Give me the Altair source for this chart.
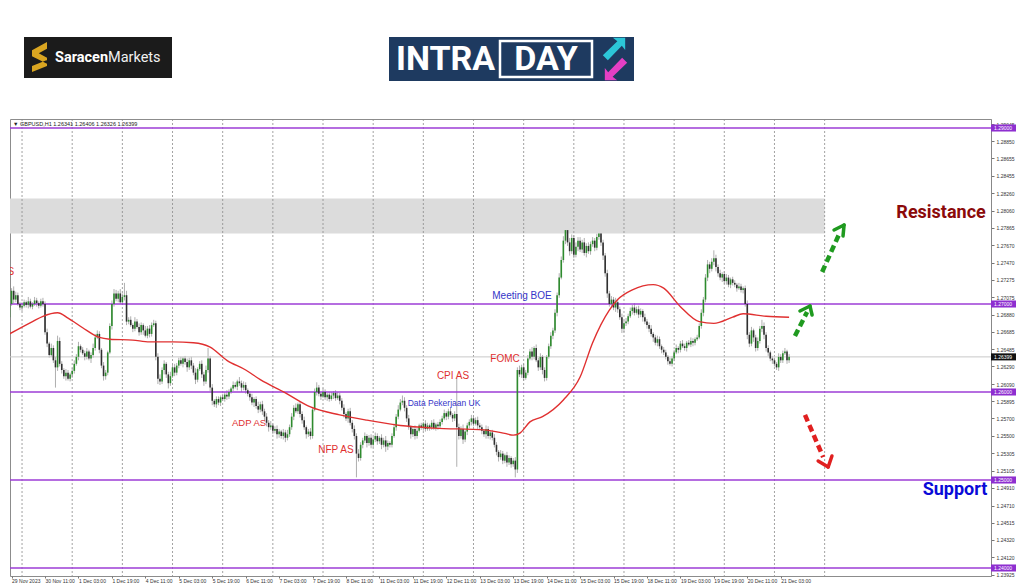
import altair as alt
import pandas as pd

# ---------------- data (prices in pips above 1.24000) ----------------
first_open = 285
close_pips = (
    [300, 315, 305, 310]
    + [300, 296, 298, 302, 299, 303, 297, 300, 304, 301, 298, 303, 300]
    + [268, 255, 242, 250, 236, 228]
    + [258, 232]
    + [225, 218, 222, 215, 220, 224]
    + [232, 240, 252, 248, 244]
    + [240, 246, 238, 242, 250]
    + [262, 266]
    + [248, 230, 218, 222]
    + [245, 275, 300, 312]
    + [306, 312, 302, 308, 310]
    + [280]
    + [282, 276, 272, 280, 274, 268, 276, 270, 264, 272, 266, 276, 278]
    + [240, 215]
    + [212, 225, 232, 220, 210, 218, 228, 222, 230]
    + [236, 232, 238, 234, 228, 236]
    + [230, 222, 214, 226, 232, 220, 212, 225, 238]
    + [205, 190, 186, 192]
    + [188, 194, 192, 197, 195, 200, 204]
    + [208, 206, 212, 210, 205, 208, 202, 198]
    + [194, 188, 192, 184, 180, 186, 178, 172]
    + [165, 160, 162, 156, 158, 152, 155, 150, 154, 148, 152, 160]
    + [172, 182, 178, 186, 175]
    + [168, 160, 152, 155, 150]
    + [180, 200, 205]
    + [198, 195, 200, 194, 197, 192, 196, 199, 193, 196, 190]
    + [182, 175, 170, 178, 165, 158]
    + [150, 130, 125, 140]
    + [145, 150, 142, 148, 140, 146]
    + [150, 144, 148, 140, 145, 138, 142, 140]
    + [150, 160, 172, 180, 188]
    + [190, 182]
    + [170, 160, 152, 158, 150, 156, 162]
    + [160, 164, 158, 162, 160, 165, 159, 163, 161, 166]
    + [170, 176, 172, 178, 174, 170, 175]
    + [160]
    + [150, 158, 146, 155, 162]
    + [166, 170, 164, 168, 162, 160]
    + [156, 152, 158, 150, 154, 148]
    + [140, 132, 126, 130, 122, 128, 120, 125, 118, 122, 112]
    + [225]
    + [220, 228, 216, 222]
    + [238, 246, 240, 250, 236]
    + [228, 240, 225, 216]
    + [240, 252, 264, 270]
    + [290, 310, 330]
    + [350, 372, 384]
    + [370, 360, 375, 356, 365, 372]
    + [362, 370, 358, 366, 360, 368, 372, 364, 376]
    + [380, 370, 355]
    + [335, 312, 300]
    + [305, 296, 302, 294]
    + [285, 272, 278, 280]
    + [286, 292, 296, 290, 294, 288, 292, 285, 280, 276]
    + [272, 266, 262, 256, 260, 252, 248, 245]
    + [240, 235, 232, 238]
    + [245, 250, 248, 255, 252, 250, 256, 254, 258, 256, 260, 262]
    + [275, 290, 305]
    + [330, 345, 340, 348, 352, 342]
    + [335, 330, 334, 326, 330, 322, 328, 324]
    + [322, 318, 320, 316, 318, 300]
    + [265]
    + [255, 270, 262, 250, 258]
    + [272, 275, 265, 250]
    + [245, 238, 236]
    + [232, 228, 240, 236]
    + [244, 246, 236, 240]
)
wick_hi = (
    [2, 3, 5, 4]
    + [3, 2, 4, 3, 2, 5, 3, 2, 4, 3, 2, 3, 4]
    + [3, 4, 2, 5, 3, 4]
    + [6, 4]
    + [3, 2, 4, 3, 2, 3]
    + [4, 3, 5, 2, 3]
    + [3, 4, 2, 3, 5]
    + [4, 4]
    + [3, 2, 4, 3]
    + [2, 3, 4, 5]
    + [4, 3, 5, 4, 14]
    + [5]
    + [3, 4, 2, 5, 3, 4, 3, 2, 5, 3, 4, 3, 4]
    + [3, 4]
    + [5, 3, 4, 2, 3, 5, 3, 4, 3]
    + [3, 4, 2, 3, 4, 3]
    + [4, 3, 5, 2, 3, 4, 3, 5, 12]
    + [3, 4, 2, 3]
    + [3, 2, 4, 3, 5, 3, 2]
    + [4, 3, 2, 5, 3, 4, 3, 2]
    + [3, 4, 2, 3, 5, 3, 4, 3]
    + [4, 3, 5, 2, 3, 4, 3, 2, 4, 3, 5, 3]
    + [4, 3, 5, 2, 3]
    + [3, 4, 2, 3, 4]
    + [3, 4, 6]
    + [3, 2, 4, 3, 2, 3, 4, 2, 3, 4, 3]
    + [3, 4, 2, 3, 4, 3]
    + [4, 3, 5, 3]
    + [3, 4, 2, 3, 4, 3]
    + [4, 3, 2, 4, 3, 5, 3, 2]
    + [3, 4, 3, 5, 4]
    + [6, 4]
    + [3, 4, 2, 3, 4, 3, 2]
    + [3, 2, 4, 3, 2, 3, 4, 2, 3, 3]
    + [3, 4, 2, 3, 4, 2, 3]
    + [41]
    + [4, 3, 5, 2, 3]
    + [3, 4, 2, 3, 4, 3]
    + [3, 2, 4, 3, 2, 3]
    + [4, 3, 2, 4, 3, 2, 4, 3, 2, 3, 4]
    + [3]
    + [5, 3, 4, 3]
    + [4, 3, 5, 2, 4]
    + [3, 4, 2, 3]
    + [2, 3, 4, 3]
    + [4, 3, 5]
    + [4, 5, 9]
    + [3, 5, 4, 3, 5, 4]
    + [4, 3, 5, 3, 4, 3, 4, 3, 4]
    + [10, 4, 3]
    + [3, 4, 3]
    + [4, 3, 5, 3]
    + [3, 4, 3, 4]
    + [3, 4, 3, 5, 3, 4, 3, 2, 4, 3]
    + [3, 4, 2, 3, 4, 3, 2, 3]
    + [3, 2, 4, 3]
    + [3, 4, 2, 3, 4, 3, 2, 3, 4, 3, 2, 3]
    + [3, 4, 3]
    + [4, 5, 3, 4, 9, 4]
    + [3, 4, 2, 3, 4, 3, 2, 3]
    + [3, 2, 4, 3, 2, 3]
    + [4]
    + [3, 4, 2, 3, 4]
    + [3, 7, 4, 3]
    + [3, 2, 3]
    + [3, 2, 4, 3]
    + [3, 4, 2, 3]
)
wick_lo = (
    [3, 2, 4, 3]
    + [2, 3, 4, 2, 3, 4, 2, 3, 2, 4, 3, 2, 3]
    + [3, 4, 3, 2, 3, 23]
    + [4, 3]
    + [4, 3, 5, 2, 3, 4]
    + [3, 2, 4, 3, 2]
    + [4, 3, 2, 5, 3]
    + [3, 2]
    + [4, 3, 5, 4]
    + [3, 2, 4, 3]
    + [3, 4, 2, 3, 4]
    + [4]
    + [3, 2, 4, 3, 2, 4, 3, 5, 2, 3, 4, 3, 2]
    + [4, 6]
    + [4, 3, 5, 4, 6, 3, 2, 4, 3]
    + [3, 2, 4, 3, 5, 3]
    + [4, 3, 5, 3, 2, 4, 5, 3, 3]
    + [4, 5, 3, 4]
    + [3, 4, 2, 3, 4, 3, 2]
    + [3, 2, 4, 3, 5, 3, 4, 3]
    + [4, 3, 5, 3, 4, 3, 4, 5]
    + [4, 5, 3, 4, 3, 5, 4, 3, 4, 5, 3, 3]
    + [3, 4, 2, 3, 4]
    + [4, 3, 5, 3, 4]
    + [3, 2, 4]
    + [3, 4, 2, 3, 4, 3, 2, 4, 3, 2, 4]
    + [3, 4, 3, 5, 3, 4]
    + [4, 27, 4, 3]
    + [4, 3, 5, 3, 4, 3]
    + [3, 4, 3, 5, 3, 6, 4, 3]
    + [3, 2, 4, 3, 2]
    + [3, 4]
    + [4, 3, 5, 3, 4, 3, 2]
    + [3, 4, 3, 2, 4, 3, 2, 3, 4, 3]
    + [3, 2, 4, 3, 2, 4, 3]
    + [45]
    + [4, 3, 5, 3, 4]
    + [3, 4, 3, 2, 4, 3]
    + [4, 3, 5, 3, 4, 3]
    + [3, 4, 5, 3, 4, 3, 5, 3, 4, 3, 9]
    + [4]
    + [3, 4, 3, 2]
    + [3, 2, 4, 3, 2]
    + [4, 3, 5, 4]
    + [3, 2, 3, 4]
    + [3, 4, 3]
    + [2, 3, 4]
    + [4, 5, 3, 4, 3, 5]
    + [3, 4, 3, 5, 3, 4, 3, 4, 3]
    + [3, 4, 5]
    + [4, 5, 3]
    + [4, 3, 5, 4]
    + [3, 5, 4, 3]
    + [3, 2, 4, 3, 2, 4, 3, 5, 3, 4]
    + [4, 3, 5, 3, 4, 3, 4, 3]
    + [3, 4, 2, 3]
    + [3, 2, 4, 3, 2, 3, 4, 2, 3, 4, 3, 2]
    + [2, 3, 4]
    + [3, 4, 5, 3, 4, 5]
    + [4, 3, 5, 3, 4, 3, 4, 3]
    + [3, 4, 2, 3, 4, 3]
    + [5]
    + [4, 3, 5, 4, 3]
    + [3, 4, 5, 4]
    + [4, 3, 4]
    + [3, 3, 4, 3]
    + [3, 2, 4, 3]
)

# moving average
ma_idx = [0, 11, 16, 23, 28, 35, 43, 48, 59, 67, 78, 88, 96, 104, 113, 120, 132, 144, 158, 171,
          187, 203, 227, 237, 241, 244, 249, 255, 265, 273, 279, 287, 291, 298, 308, 313, 321, 330,
          337, 346, 351, 362, 373]
ma_pips = [266, 280, 286, 290, 284, 273, 262, 260, 259, 257, 257, 256, 251, 236, 225, 214, 199, 183,
           174, 168, 162, 159, 157, 153, 151, 153, 166, 172, 191, 217, 256, 293, 305, 316, 322, 318,
           297, 280, 278, 285, 289, 286, 285]

day_sep_idx = [6, 30, 54, 78, 102, 126, 150, 174, 198, 222, 246, 270, 294, 318, 342, 366, 390]
level_prices = [1.29, 1.27, 1.26, 1.25, 1.24]
level_labels = ["1.29000", "1.27000", "1.26000", "1.25000", "1.24000"]
last_price = 1.26399
zone_low, zone_high, zone_end_idx = 1.278, 1.282, 390

x_label_idx = [1, 17, 33, 49, 65, 81, 97, 113, 129, 145, 161, 177, 193, 209, 225, 241, 257, 273,
               289, 305, 321, 337, 353, 369]
x_label_txt = ["29 Nov 2023", "30 Nov 11:00", "1 Dec 03:00", "1 Dec 19:00", "4 Dec 11:00",
               "5 Dec 03:00", "5 Dec 19:00", "6 Dec 11:00", "7 Dec 03:00", "7 Dec 19:00",
               "8 Dec 11:00", "11 Dec 03:00", "11 Dec 19:00", "12 Dec 11:00", "13 Dec 03:00",
               "13 Dec 19:00", "14 Dec 11:00", "15 Dec 03:00", "15 Dec 19:00", "18 Dec 11:00",
               "19 Dec 03:00", "19 Dec 19:00", "20 Dec 11:00", "21 Dec 03:00"]
y_tick_vals = [1.29045, 1.28850, 1.28655, 1.28455, 1.28260, 1.28060, 1.27865, 1.27670, 1.27470,
               1.27275, 1.27075, 1.26880, 1.26685, 1.26485, 1.26290, 1.26090, 1.25895, 1.25700,
               1.25500, 1.25305, 1.25105, 1.24910, 1.24710, 1.24515, 1.24320, 1.24120, 1.23925]

ann_text = ["Meeting BOE", "FOMC", "CPI AS", "Data Pekerjaan UK", "ADP AS", "NFP AS"]
ann_idx = [245.2, 237.1, 212.2, 207.9, 114.6, 156.2]
ann_pips = [309, 237.5, 218, 187.5, 165, 134]
ann_color = ["#3535c8", "#e0302f", "#e0302f", "#3535c8", "#e0302f", "#e0302f"]
ann_size = [10, 10, 10, 8.5, 9.5, 10]

big_text = ["Resistance", "Support"]
big_idx = [445.7, 452.4]
big_pips = [403.4, 88.6]
big_color = ["#8b0a0a", "#0a0ad8"]

# arrows (index, pips)
shaft_x0 = [388.8, 375.8, 380.6]
shaft_p0 = [336.4, 263.6, 173.9]
shaft_x1 = [397.4, 381.6, 389.3]
shaft_p1 = [381.8, 290.9, 126.1]
shaft_col = ["#1f9a1f", "#1f9a1f", "#e02020"]
head_x0 = [399.3, 399.3, 383.0, 383.0, 391.7, 391.7]
head_p0 = [389.8, 389.8, 297.7, 297.7, 114.8, 114.8]
head_x1 = [394.5, 398.8, 378.2, 384.0, 386.9, 393.5]
head_p1 = [384.1, 377.3, 292.0, 287.5, 121.6, 127.3]
head_col = ["#1f9a1f", "#1f9a1f", "#1f9a1f", "#1f9a1f", "#e02020", "#e02020"]


def px(p):
    return 1.24 + p / 10000.0


# ---------------- tables ----------------
n = min(len(close_pips), len(wick_hi), len(wick_lo))
rows = []
prev = first_open
for i in range(n):
    o, c = prev, close_pips[i]
    rows.append({
        "idx": i, "o": px(o), "c": px(c),
        "h": px(max(o, c) + wick_hi[i]), "l": px(min(o, c) - wick_lo[i]),
        "dir": "up" if c >= o else "down",
    })
    prev = c
candles = pd.DataFrame(rows)
ma_df = pd.DataFrame({"idx": ma_idx, "ma": [px(v) for v in ma_pips]})
sep_df = pd.DataFrame({"idx": day_sep_idx})
lvl_df = pd.DataFrame({"lvl": level_prices, "label": level_labels})
tag_df = pd.DataFrame({"lvl": level_prices + [last_price],
                       "label": level_labels + ["1.26399"],
                       "col": ["#8e2fd0"] * 5 + ["#111111"]})
zone_df = pd.DataFrame({"x0": [-5], "x1": [zone_end_idx], "p0": [zone_low], "p1": [zone_high]})
ann_df = pd.DataFrame({"t": ann_text, "idx": ann_idx, "p": [px(v) for v in ann_pips],
                       "col": ann_color, "fs": ann_size})
big_df = pd.DataFrame({"t": big_text, "idx": big_idx, "p": [px(v) for v in big_pips], "col": big_color})
shaft_df = pd.DataFrame({"x0": shaft_x0, "y0": [px(v) for v in shaft_p0], "x1": shaft_x1,
                         "y1": [px(v) for v in shaft_p1], "col": shaft_col})
head_df = pd.DataFrame({"x0": head_x0, "y0": [px(v) for v in head_p0], "x1": head_x1,
                        "y1": [px(v) for v in head_p1], "col": head_col})
one = pd.DataFrame({"a": [0]})

# ---------------- scales & axes ----------------
xs = alt.Scale(domain=[0.24, 469.6], nice=False, zero=False)
ys = alt.Scale(domain=[1.23909, 1.291023], nice=False, zero=False)
label_expr = ("[" + ",".join("'%s'" % t for t in x_label_txt) + "][indexof(["
              + ",".join(str(v) for v in x_label_idx) + "], datum.value)]")
xaxis = alt.Axis(values=x_label_idx, labelExpr=label_expr, orient="bottom", labelFontSize=5,
                 labelFont="Liberation Sans", labelColor="#333333", tickSize=2, tickColor="#777777",
                 domain=False, grid=False, title=None, labelAlign="left", labelPadding=0,
                 labelOverlap=False, labelFlush=False)
yaxis = alt.Axis(values=y_tick_vals, format=".5f", orient="right", labelFontSize=5,
                 labelFont="Liberation Sans", labelColor="#333333", tickSize=3, tickColor="#777777",
                 domainColor="#888888", grid=False, title=None, labelPadding=2,
                 labelOverlap=False, labelFlush=False)

X = lambda f: alt.X(f, scale=xs, axis=xaxis)
Y = lambda f: alt.Y(f, scale=ys, axis=yaxis)

zone = alt.Chart(zone_df).mark_rect(color="#dcdcdc", clip=True).encode(
    x=X("x0:Q"), x2="x1:Q", y=Y("p0:Q"), y2="p1:Q")
seps = alt.Chart(sep_df).mark_rule(color="#8a8a8a", strokeDash=[2, 2], strokeWidth=0.8, clip=True).encode(
    x=X("idx:Q"))
lvls = alt.Chart(lvl_df).mark_rule(color="#9c3dd6", strokeWidth=1.5).encode(y=Y("lvl:Q"))
lastline = alt.Chart(pd.DataFrame({"lvl": [last_price]})).mark_rule(color="#c8c8c8", strokeWidth=1).encode(
    y=Y("lvl:Q"))
wicks = alt.Chart(candles).mark_rule(color="#9a9a9a", strokeWidth=0.8, clip=True).encode(
    x=X("idx:Q"), y=Y("l:Q"), y2="h:Q")
bodies = alt.Chart(candles).mark_rule(strokeWidth=1.6, clip=True).encode(
    x=X("idx:Q"), y=Y("o:Q"), y2="c:Q",
    color=alt.Color("dir:N", scale=alt.Scale(domain=["up", "down"], range=["#2e8b2e", "#303030"]),
                    legend=None))
ma = alt.Chart(ma_df).mark_line(color="#e03030", strokeWidth=1.4, interpolate="monotone", clip=True).encode(
    x=X("idx:Q"), y=Y("ma:Q"))
ann = alt.Chart(ann_df).mark_text(font="Liberation Sans", baseline="middle", align="center").encode(
    x=X("idx:Q"), y=Y("p:Q"), text="t:N", color=alt.Color("col:N", scale=None),
    size=alt.Size("fs:Q", scale=None, legend=None))
cut = alt.Chart(pd.DataFrame({"t": ["AS"], "idx": [2.2], "p": [px(336)]})).mark_text(
    font="Liberation Sans", fontSize=10, align="right", baseline="middle", color="#e0302f", clip=True).encode(
    x=X("idx:Q"), y=Y("p:Q"), text="t:N")
big = alt.Chart(big_df).mark_text(font="Roboto", fontWeight="bold", fontSize=18, baseline="middle",
                                  align="center").encode(
    x=X("idx:Q"), y=Y("p:Q"), text="t:N", color=alt.Color("col:N", scale=None))
shafts = alt.Chart(shaft_df).mark_rule(strokeWidth=4.5, strokeDash=[7, 4]).encode(
    x=X("x0:Q"), x2="x1:Q", y=Y("y0:Q"), y2="y1:Q", color=alt.Color("col:N", scale=None))
heads = alt.Chart(head_df).mark_rule(strokeWidth=3.5, strokeCap="round").encode(
    x=X("x0:Q"), x2="x1:Q", y=Y("y0:Q"), y2="y1:Q", color=alt.Color("col:N", scale=None))
tags = alt.Chart(tag_df).transform_calculate(
    top="datum.lvl + 0.0004", bot="datum.lvl - 0.0004").mark_rect().encode(
    x=alt.value(981), x2=alt.value(1007), y=Y("top:Q"), y2="bot:Q", color=alt.Color("col:N", scale=None))
tag_txt = alt.Chart(tag_df).mark_text(fontSize=5, font="Liberation Sans", color="white", align="left",
                                       baseline="middle").encode(
    x=alt.value(984), y=Y("lvl:Q"), text="label:N")
header = alt.Chart(one).mark_text(fontSize=5.5, font="Liberation Sans", color="#222222", align="left",
                                  baseline="middle", text="\u25bc GBPUSD,H1  1.26341 1.26406 1.26326 1.26399").encode(
    x=alt.value(3), y=alt.value(4.5))

# ---------------- logos (decoration above the plot) ----------------
s_path = ("M0.5,-1 L-0.5,-0.45 L-0.5,-0.05 L0.5,0.45 L0.5,0.05 L-0.05,-0.25 L0.5,-0.55 Z "
          "M0.5,0.2 L0.5,0.6 L-0.5,1 L-0.5,0.6 Z")
arrow_path = "M-1,0.55 L0.3,-0.7 L-0.1,-1 L1,-1 L1,0.1 L0.7,-0.3 L-0.55,1 Z"
saracen_box = alt.Chart(one).mark_rect(color="#1b1b1b").encode(
    x=alt.value(14), x2=alt.value(162), y=alt.value(-82), y2=alt.value(-41))
saracen_icon = alt.Chart(one).mark_point(shape=s_path, filled=True, size=900, color="#d9a521", opacity=1).encode(
    x=alt.value(29.5), y=alt.value(-62))
saracen_t1 = alt.Chart(one).mark_text(text="Saracen", font="Roboto", fontWeight="bold", fontSize=14.5,
                                      color="white", align="left", baseline="middle").encode(
    x=alt.value(45), y=alt.value(-61.5))
saracen_t2 = alt.Chart(one).mark_text(text="Markets", font="Roboto", fontSize=14.5, color="#f0f0f0",
                                      align="left", baseline="middle").encode(
    x=alt.value(98), y=alt.value(-61.5))
intra_box = alt.Chart(one).mark_rect(color="#1e3a60").encode(
    x=alt.value(379), x2=alt.value(624), y=alt.value(-82), y2=alt.value(-38))
day_box = alt.Chart(one).mark_rect(fill="#1e3a60", stroke="white", strokeWidth=2.5).encode(
    x=alt.value(490), x2=alt.value(582), y=alt.value(-78), y2=alt.value(-42))
intra_t = alt.Chart(one).mark_text(text="INTRA", font="Roboto", fontWeight="bold", fontSize=34,
                                   color="white", align="left", baseline="middle").encode(
    x=alt.value(386), y=alt.value(-59))
day_t = alt.Chart(one).mark_text(text="DAY", font="Roboto", fontWeight="bold", fontSize=34,
                                 color="white", align="center", baseline="middle").encode(
    x=alt.value(536), y=alt.value(-59))
cyan_arrow = alt.Chart(one).mark_point(shape=arrow_path, filled=True, size=500, color="#2cc6d8", opacity=1).encode(
    x=alt.value(604), y=alt.value(-70))
mag_arrow = alt.Chart(one).mark_point(shape=arrow_path, filled=True, size=500, color="#e43fc4", opacity=1,
                                      angle=180).encode(
    x=alt.value(606), y=alt.value(-50))

chart = alt.layer(
    wicks, zone, seps, lvls, lastline, bodies, ma, ann, cut, big, shafts, heads, tags, tag_txt, header,
    saracen_box, saracen_icon, saracen_t1, saracen_t2, intra_box, day_box, intra_t, day_t,
    cyan_arrow, mag_arrow,
).properties(
    width=981, height=457,
    padding={"left": 2, "top": 111, "right": 25, "bottom": 12},
    autosize=alt.AutoSizeParams(type="none"),
    background="white",
).configure_view(stroke="#8c8c8c", strokeWidth=1)

chart.save("out.html", embed_options={"renderer": "svg", "actions": False})
